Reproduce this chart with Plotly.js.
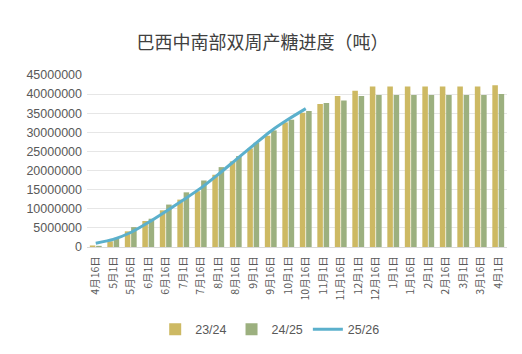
<!DOCTYPE html>
<html>
<head>
<meta charset="utf-8">
<script src="https://cdn.plot.ly/plotly-3.0.1.min.js"></script>
<style>html,body{margin:0;padding:0;background:#fff;}#chart{width:522px;height:354px;}</style>
</head>
<body>
<div id="chart"></div>
<script>
var categories = ["4月16日","5月1日","5月16日","6月1日","6月16日","7月1日","7月16日","8月1日","8月16日","9月1日","9月16日","10月1日","10月16日","11月1日","11月16日","12月1日","12月16日","1月1日","1月16日","2月1日","2月16日","3月1日","3月16日","4月1日"];
var s2324 = [400000,1500000,4100000,6800000,9600000,12400000,14600000,18900000,22400000,25800000,29100000,32600000,35100000,37400000,39500000,40900000,42000000,42000000,42000000,42000000,42000000,42000000,42000000,42300000];
var s2425 = [300000,2400000,5200000,7400000,11100000,14300000,17400000,20900000,23800000,27300000,30500000,33300000,35600000,37700000,38300000,39500000,39800000,39800000,39800000,39800000,39800000,39800000,39800000,40000000];
var s2526 = [1000000,2000000,3800000,6400000,9300000,12300000,15400000,19000000,22800000,26600000,30300000,33400000,36200000];
var seriesNames = ["23/24","24/25","25/26"];
var yTicks = [0,5000000,10000000,15000000,20000000,25000000,30000000,35000000,40000000,45000000];

var traces = [
  {type:'bar', name:seriesNames[0], x:categories, y:s2324, marker:{color:'#CDB963'}},
  {type:'bar', name:seriesNames[1], x:categories, y:s2425, marker:{color:'#9CB07F'}},
  {type:'scatter', mode:'lines', name:seriesNames[2], x:categories.slice(0,s2526.length), y:s2526,
   line:{color:'#5BB0CC', width:3, shape:'spline', smoothing:0.6}}
];
var layout = {
  width:522, height:354,
  margin:{l:87, r:15, t:75, b:107, autoexpand:false},
  paper_bgcolor:'#fff', plot_bgcolor:'#fff',
  font:{family:'"Noto Sans CJK SC", "Liberation Sans", sans-serif', color:'#595959', size:11},
  title:{text:'巴西中南部双周产糖进度（吨）', x:0.503, xanchor:'center', y:0.88, yanchor:'middle', yref:'container',
         font:{size:18, color:'#404040', family:'"Noto Sans CJK SC", sans-serif'}},
  barmode:'group', bargap:0.28, bargroupgap:0.12,
  showlegend:true,
  legend:{orientation:'h', x:0.435, xanchor:'center', y:-0.48, yanchor:'middle',
          font:{size:12.5, color:'#595959', family:'"Liberation Sans", sans-serif'}, traceorder:'normal'},
  xaxis:{type:'category', tickangle:-90, tickfont:{size:10.5, color:'#595959'}, showgrid:false,
         showline:true, linecolor:'#d9d9d9', ticks:'', ticklabelstandoff:4, automargin:false},
  yaxis:{range:[0,45000000], tickvals:yTicks, tickformat:'d', showgrid:true, gridcolor:'#e6e6e6',
         zeroline:false, showline:false, ticks:'', ticklabelstandoff:4,
         tickfont:{size:12.5, color:'#595959', family:'"Liberation Sans", sans-serif'}, automargin:false}
};
Plotly.newPlot('chart', traces, layout, {displayModeBar:false, staticPlot:true});
</script>
</body>
</html>
